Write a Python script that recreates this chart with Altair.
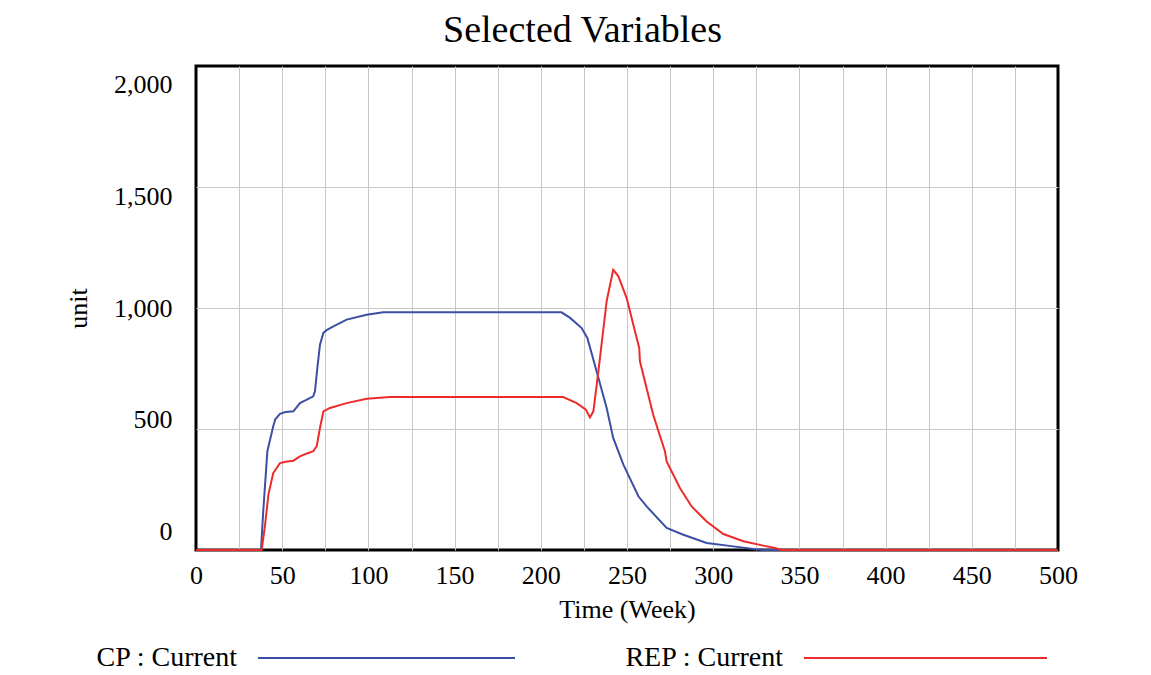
import altair as alt
import pandas as pd

# ---- data ----
series_names = ["CP : Current", "REP : Current"]
series_colors = ["#3b4fa3", "#ee2b2b"]

cp_time = [0, 37.7, 39, 41.4, 44.8, 46, 48.7, 52, 56.5, 60.3, 64, 68, 69, 70.5, 71.9, 73.9, 76,
           79.7, 87.4, 99, 108.6, 212, 217, 223.7, 227, 232.4, 238.2, 242, 247.9, 256.6, 261.4,
           273, 282.7, 296.2, 311.7, 323.3, 330, 500]
cp_value = [0, 0, 160, 408, 511, 540, 563, 570, 573, 607, 620, 635, 656, 760, 848, 897, 910,
            924, 952, 972, 982, 982, 959, 917, 876, 738, 587, 463, 353, 222, 180,
            91, 63, 29, 15, 4, 0, 0]

rep_time = [0, 38.1, 40, 42, 44.8, 48.7, 52, 56.5, 60.3, 64, 68, 70, 71.9, 73.9, 77.7, 87.4, 99,
            112.5, 213, 220.8, 226.2, 228.5, 230.5, 233.4, 238.2, 242, 245, 249.8, 255.6, 257.1,
            257.5, 265.2, 272, 273, 280.7, 287.5, 296.2, 305.9, 317.5, 329.1, 335.8, 340, 500]
rep_value = [0, 0, 100, 229, 318, 359, 365, 369, 387, 398, 408, 428, 504, 573, 587, 607, 625,
             632, 632, 607, 580, 548, 573, 738, 1028, 1158, 1131, 1041, 876, 835,
             780, 559, 408, 366, 256, 180, 118, 66, 36, 18, 8, 0, 0]

x_grid_values = list(range(0, 501, 25))
y_tick_values = [0, 500, 1000, 1500, 2000]

FONT = "Liberation Serif"
GRID = "#c8c8c8"

df = pd.concat([
    pd.DataFrame({"time": cp_time, "value": cp_value, "series": series_names[0]}),
    pd.DataFrame({"time": rep_time, "value": rep_value, "series": series_names[1]}),
], ignore_index=True)

color_scale = alt.Scale(domain=series_names, range=series_colors)

main = alt.Chart(df).mark_line(strokeWidth=2).encode(
    x=alt.X("time:Q",
            scale=alt.Scale(domain=[0, 500], nice=False, zero=False),
            axis=alt.Axis(values=x_grid_values,
                          labelExpr="datum.value % 50 == 0 ? datum.label : ''",
                          title="Time (Week)", grid=True, ticks=False, domain=False,
                          gridColor={"condition": {"test": "datum.value == 0 || datum.value == 500",
                                                   "value": "transparent"},
                                     "value": GRID},
                          labelFlush=False, labelOverlap=False, labelPadding=12,
                          titlePadding=8)),
    y=alt.Y("value:Q",
            scale=alt.Scale(domain=[0, 2000], nice=False),
            axis=alt.Axis(values=y_tick_values,
                          labelExpr="format(datum.value, ',')", title="unit",
                          grid=True, ticks=False, domain=False, labelPadding=24,
                          gridColor={"condition": {"test": "datum.value == 0 || datum.value == 2000",
                                                   "value": "transparent"},
                                     "value": GRID},
                          labelOffset={"expr": "(datum.value - 1000) * 0.0185"},
                          titlePadding=22)),
    color=alt.Color("series:N", scale=color_scale, legend=None),
    order=alt.Order("time:Q"),
).properties(width=862, height=484,
             view=alt.ViewBackground(stroke="black", strokeWidth=3))

legend_df = pd.DataFrame({"series": series_names, "idx": [0, 1]})
leg_base = alt.Chart(legend_df).transform_calculate(
    lx="41 + datum.idx * 546",
    x0="62 + datum.idx * 546",
    x1="319 + datum.idx * 532",
)
leg_scale = alt.Scale(domain=[0, 862], nice=False, zero=False)
leg_text = leg_base.mark_text(align="right", baseline="middle", font=FONT,
                              fontSize=28, color="black").encode(
    x=alt.X("lx:Q", scale=leg_scale, axis=None),
    y=alt.value(15),
    text="series:N",
)
leg_line = leg_base.mark_rule(strokeWidth=2).encode(
    x=alt.X("x0:Q", scale=leg_scale, axis=None),
    x2="x1:Q",
    y=alt.value(15),
    color=alt.Color("series:N", scale=color_scale, legend=None),
)
legend = alt.layer(leg_line, leg_text).properties(
    width=862, height=26, view=alt.ViewBackground(stroke="transparent"))

chart = alt.vconcat(main, legend, spacing=18).properties(
    title=alt.TitleParams("Selected Variables", font=FONT, fontSize=38,
                          fontWeight="normal", color="black", anchor="middle",
                          offset=15, dx=11),
    padding={"left": 56, "top": 3, "right": 10, "bottom": 5},
).configure_axis(
    labelFont=FONT, titleFont=FONT, labelFontSize=26, titleFontSize=26,
    labelColor="black", titleColor="black", titleFontWeight="normal",
    gridWidth=1,
).configure_view(stroke=None).configure_concat(spacing=18)

chart.save("out.html", embed_options={"renderer": "svg", "actions": False})
